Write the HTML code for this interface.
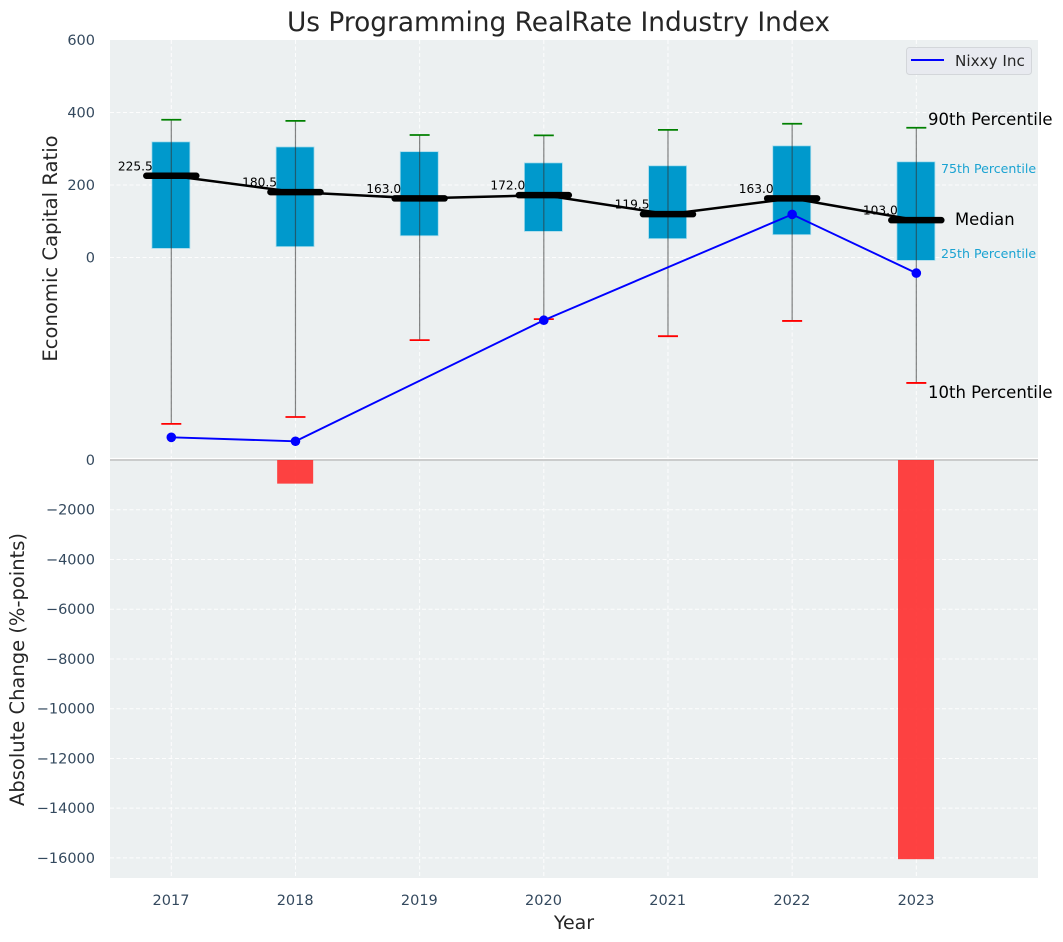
<!DOCTYPE html>
<html lang="en">
<head>
<meta charset="utf-8">
<title>Us Programming RealRate Industry Index</title>
<style>
html,body{margin:0;padding:0;background:#fff;}
svg{display:block;font-family:"DejaVu Sans","Liberation Sans",sans-serif;}
</style>
</head>
<body>
<svg id="chart" xmlns="http://www.w3.org/2000/svg" width="1063" height="942" viewBox="0 0 1063 942">
  <rect x="110" y="40" width="928" height="838" fill="#ecf0f1"/>
  <g id="grid"></g>
  <g id="bars"></g>
  <g id="boxes"></g>
  <g id="axes"></g>
  <g id="series"></g>
  <text x="558.5" y="31" text-anchor="middle" font-size="26.4" fill="#262626">Us Programming RealRate Industry Index</text>
  <text transform="translate(57,248.5) rotate(-90)" text-anchor="middle" font-size="19.6" fill="#262626">Economic Capital Ratio</text>
  <text transform="translate(24,669.5) rotate(-90)" text-anchor="middle" font-size="19.5" fill="#262626">Absolute Change (%-points)</text>
  <text x="574" y="929" text-anchor="middle" font-size="19" fill="#262626">Year</text>
  <text x="928" y="125" font-size="16.5" fill="#000">90th Percentile</text>
  <text x="941" y="173" font-size="12.6" fill="#1ba3d2">75th Percentile</text>
  <text x="955" y="225" font-size="16.4" fill="#000">Median</text>
  <text x="941" y="258" font-size="12.6" fill="#1ba3d2">25th Percentile</text>
  <text x="928" y="398" font-size="16.5" fill="#000">10th Percentile</text>
  <g>
    <rect x="906.5" y="47.5" width="125" height="27" rx="3" fill="#e8eaf0" stroke="#d3d6da" stroke-width="1"/>
    <line x1="911" y1="60" x2="944" y2="60" stroke="#0000ff" stroke-width="2"/>
    <text x="955" y="66" font-size="15.2" fill="#262626">Nixxy Inc</text>
  </g>
</svg>
<script>
const years = [2017, 2018, 2019, 2020, 2021, 2022, 2023];
const p90 = [380, 377, 338, 337, 352, 369, 358];
const p75 = [319, 305, 292, 261, 253, 308, 264];
const medians = [225.5, 180.5, 163.0, 172.0, 119.5, 163.0, 103.0];
const p25 = [25, 30, 60, 72, 52, 63, -8];
const p10 = [-459, -440, -228, -170, -217, -175, -346];
const nixxy = [-496, -507, null, -173, null, 119, -43];
const absChange = [null, -950, null, null, null, null, -16050];
const upperTicks = [600, 400, 200, 0];
const lowerTicks = [0, -2000, -4000, -6000, -8000, -10000, -12000, -14000, -16000];

const NS = 'http://www.w3.org/2000/svg';
const xScale = function (year) { return 171.3 + (year - 2017) * 124.17; };
const yUpper = function (v) { return 257.5 - v * 0.3625; };
const yLower = function (v) { return 460 - v * 0.02487; };

function make(parent, tag, props, text) {
  const el = document.createElementNS(NS, tag);
  Object.keys(props).forEach(function (k) { el.setAttribute(k, props[k]); });
  if (text !== undefined) el.textContent = text;
  parent.appendChild(el);
  return el;
}
const grid = document.getElementById('grid');
const axes = document.getElementById('axes');
const boxes = document.getElementById('boxes');
const bars = document.getElementById('bars');
const series = document.getElementById('series');
const dash = { stroke: '#ffffff', 'stroke-width': 1, 'stroke-dasharray': '4 2.5', opacity: 0.9 };

upperTicks.forEach(function (t) {
  const y = yUpper(t);
  if (t !== 600) {
    const g = make(grid, 'line', Object.assign({ x1: 110, x2: 1038, y1: y, y2: y }, dash));
    
    
  }
  const l = make(axes, 'text', { x: 95, y: y + 5, 'text-anchor': 'end', 'font-size': 14.5, fill: '#34495e' }, String(t));
  
  
});
lowerTicks.forEach(function (t) {
  const y = yLower(t);
  if (t !== 0) {
    const g = make(grid, 'line', Object.assign({ x1: 110, x2: 1038, y1: y, y2: y }, dash));
    
    
  }
  const l = make(axes, 'text', { x: 95, y: y + 5, 'text-anchor': 'end', 'font-size': 14.5, fill: '#34495e' }, String(t).replace('-', '\u2212'));
  
  
});
years.forEach(function (yr) {
  const x = xScale(yr);
  const g = make(grid, 'line', Object.assign({ x1: x, x2: x, y1: 40, y2: 878 }, dash));
  
  
  const l = make(axes, 'text', { x: x - 0.3, y: 905, 'text-anchor': 'middle', 'font-size': 14.5, fill: '#34495e' }, String(yr));
  
  
});

const sep = make(grid, 'line', { x1: 110, x2: 1038, y1: 458.5, y2: 458.5, stroke: '#ffffff', 'stroke-width': 1.2 });


const zero = make(grid, 'line', { x1: 110, x2: 1038, y1: 460, y2: 460, stroke: '#bfbfbf', 'stroke-width': 1.4 });



absChange.forEach(function (v, i) {
  if (v === null) return;
  const x = xScale(years[i]) - 0.3;
  const b = make(bars, 'rect', { x: x - 18, y: yLower(0), width: 36, height: yLower(v) - yLower(0), fill: '#ff2d2d', opacity: 0.9 });
  
  
});

years.forEach(function (yr, i) {
  const x = xScale(yr);
  const box = make(boxes, 'rect', { x: x - 19.4, y: yUpper(p75[i]), width: 38, height: yUpper(p25[i]) - yUpper(p75[i]), fill: '#0099cc', stroke: '#a8dcec', 'stroke-width': 0.8 });
  
  
  const w = make(boxes, 'line', { x1: x, x2: x, y1: yUpper(p90[i]), y2: yUpper(p10[i]), stroke: '#333333', 'stroke-width': 1.2, opacity: 0.6 });
  
  
  const c1 = make(boxes, 'line', { x1: x - 10, x2: x + 10, y1: yUpper(p90[i]), y2: yUpper(p90[i]), stroke: '#008000', 'stroke-width': 1.8 });
  
  
  const c2 = make(boxes, 'line', { x1: x - 10, x2: x + 10, y1: yUpper(p10[i]), y2: yUpper(p10[i]), stroke: '#ff0000', 'stroke-width': 1.8 });
  
  
});

const medianPath = medians.map(function (m, i) { return xScale(years[i]) + ',' + yUpper(m); }).join(' ');
const medianLine = make(series, 'polyline', { points: medianPath, fill: 'none', stroke: '#000', 'stroke-width': 2.5 });



medians.forEach(function (m, i) {
  const x = xScale(years[i]);
  const y = yUpper(m);
  const tick = make(series, 'line', { x1: x - 25, x2: x + 25, y1: y, y2: y, stroke: '#000', 'stroke-width': 6.5, 'stroke-linecap': 'round' });
  
  
  const lbl = make(series, 'text', { x: x - 18.5, y: y - 5.5, 'text-anchor': 'end', 'font-size': 12.2, fill: '#000' }, m.toFixed(1));
  
  
});

const nixxyPts = [];
nixxy.forEach(function (v, i) {
  if (v !== null) nixxyPts.push([xScale(years[i]), yUpper(v)]);
});
const nixxyLine = make(series, 'polyline', { points: nixxyPts.map(function (p) { return p.join(','); }).join(' '), fill: 'none', stroke: '#0000ff', 'stroke-width': 1.9 });


nixxyPts.forEach(function (p) {
  const dot = make(series, 'circle', { cx: p[0], cy: p[1], r: 4.8, fill: '#0000ff' });
  
  
});
</script>
</body>
</html>
